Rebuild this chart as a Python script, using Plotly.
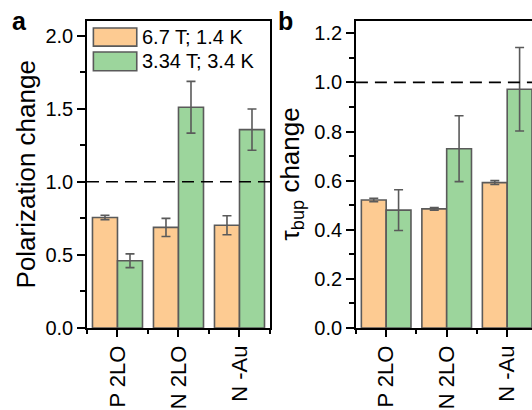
import plotly.graph_objects as go

# Samples and conditions
samples = ["P 2LO", "N 2LO", "N -Au"]
series_names = ["6.7 T; 1.4 K", "3.34 T; 3.4 K"]

# Panel a: polarization change
pol_high = [0.756, 0.688, 0.703]
pol_high_err = [0.015, 0.062, 0.065]
pol_low = [0.460, 1.510, 1.357]
pol_low_err = [0.047, 0.177, 0.141]

# Panel b: tau_bup change
tau_high = [0.521, 0.485, 0.592]
tau_high_err = [0.007, 0.005, 0.008]
tau_low = [0.480, 0.730, 0.972]
tau_low_err = [0.083, 0.134, 0.170]

ORANGE = "#FDCB92"
GREEN = "#9CD59C"
EDGE = "#5a5a5a"
FONT = "Arial, Liberation Sans, sans-serif"

x_idx = list(range(len(samples)))

fig = go.Figure()


def add_bars(vals, errs, color, name, xa, ya):
    fig.add_trace(go.Bar(
        x=x_idx, y=vals, name=name, xaxis=xa, yaxis=ya,
        marker=dict(color=color, line=dict(color=EDGE, width=1.6)),
        error_y=dict(type="data", array=errs, visible=True,
                     color=EDGE, thickness=1.6, width=4.5),
        showlegend=False,
    ))


add_bars(pol_high, pol_high_err, ORANGE, series_names[0], "x", "y")
add_bars(pol_low, pol_low_err, GREEN, series_names[1], "x", "y")
add_bars(tau_high, tau_high_err, ORANGE, series_names[0], "x2", "y2")
add_bars(tau_low, tau_low_err, GREEN, series_names[1], "x2", "y2")

xaxis_common = dict(
    tickmode="array", tickvals=x_idx, ticktext=samples, tickangle=-90,
    ticks="outside", ticklen=7, tickwidth=1.5, tickcolor="black",
    showline=True, linecolor="black", linewidth=1.5, mirror=True,
    showgrid=False, zeroline=False, automargin=False,
    tickfont=dict(family=FONT, size=22, color="black"),
    minor=dict(tickmode="linear", tick0=-0.5, dtick=1, ticks="outside",
               ticklen=4, tickwidth=1.5, tickcolor="black"),
)
yaxis_common = dict(
    ticks="outside", ticklen=8, tickwidth=1.5, tickcolor="black",
    showline=True, linecolor="black", linewidth=1.5,
    showgrid=False, zeroline=False, automargin=False,
    tickfont=dict(family=FONT, size=20, color="black"),
    tickformat=".1f",
)

fig.update_layout(
    width=532, height=410,
    margin=dict(l=0, r=0, t=0, b=0, autoexpand=False),
    paper_bgcolor="white", plot_bgcolor="white",
    barmode="group", bargap=0.18, bargroupgap=0,
    font=dict(family=FONT, color="black"),
    xaxis=dict(domain=[0.1635, 0.5075], range=[-0.5, 2.5], **xaxis_common),
    yaxis=dict(domain=[0.2, 0.9488], range=[0, 2.1], dtick=0.5, mirror=True,
               minor=dict(dtick=0.25, ticks="outside", ticklen=5,
                          tickwidth=1.5, tickcolor="black"),
               **yaxis_common),
    xaxis2=dict(domain=[0.669, 1.0], range=[-0.5, 2.41], anchor="y2",
                **xaxis_common),
    yaxis2=dict(domain=[0.2, 0.9488], range=[0, 1.25], dtick=0.2,
                anchor="x2", mirror=False,
                minor=dict(dtick=0.1, ticks="outside", ticklen=5,
                           tickwidth=1.5, tickcolor="black"),
                **yaxis_common),
)

# Reference level at 1.0 in both panels
for xr, yr in (("x domain", "y"), ("x2 domain", "y2")):
    fig.add_shape(type="line", xref=xr, yref=yr, x0=0, x1=1, y0=1, y1=1,
                  line=dict(color="black", width=1.6, dash="12px,7px"),
                  layer="above")

# Legend drawn inside panel a
legend_rows = [(ORANGE, series_names[0], 0.977, 0.918),
               (GREEN, series_names[1], 0.899, 0.838)]
for color, label, y_top, y_bot in legend_rows:
    fig.add_shape(type="rect", xref="x domain", yref="y domain",
                  x0=0.035, x1=0.272, y0=y_bot, y1=y_top,
                  fillcolor=color, line=dict(color=EDGE, width=1.6),
                  layer="above")
    fig.add_annotation(xref="x domain", yref="y domain",
                       x=0.29, y=(y_top + y_bot) / 2, text=label,
                       showarrow=False, xanchor="left", yanchor="middle",
                       font=dict(family=FONT, size=20, color="black"))

# Axis titles
fig.add_annotation(xref="paper", yref="paper", x=26 / 532, y=0.5745,
                   text="Polarization change", textangle=-90,
                   showarrow=False, xanchor="center", yanchor="middle",
                   font=dict(family=FONT, size=26, color="black"))
fig.add_annotation(xref="paper", yref="paper", x=291 / 532, y=0.5745,
                   text="τ<sub>bup</sub> change", textangle=-90,
                   showarrow=False, xanchor="center", yanchor="middle",
                   font=dict(family=FONT, size=26, color="black"))

# Panel letters
fig.add_annotation(xref="paper", yref="paper", x=10 / 532, y=1 - 5 / 410,
                   text="<b>a</b>", showarrow=False, xanchor="left",
                   yanchor="top", font=dict(family=FONT, size=25, color="black"))
fig.add_annotation(xref="paper", yref="paper", x=276 / 532, y=1 - 5 / 410,
                   text="<b>b</b>", showarrow=False, xanchor="left",
                   yanchor="top", font=dict(family=FONT, size=25, color="black"))

fig.write_html("out.html")
